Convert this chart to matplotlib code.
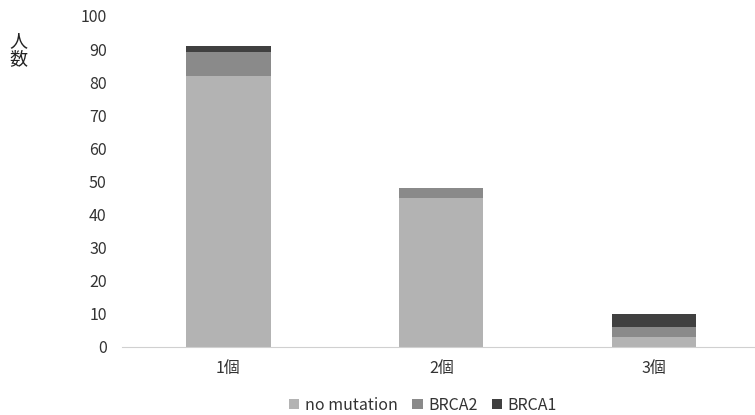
import numpy as np
import matplotlib
matplotlib.use('Agg')
import matplotlib.pyplot as plt

plt.rcParams['font.family'] = ['Noto Sans CJK JP', 'DejaVu Sans']

categories = ['1個', '2個', '3個']
no_mutation = [82, 45, 3]
brca2 = [7, 3, 3]
brca1 = [2, 0, 4]

c_none = '#b3b3b3'
c_b2 = '#8a8a8a'
c_b1 = '#404040'

fig = plt.figure(figsize=(7.55, 4.15), dpi=100)
ax = fig.add_axes([0.1616, 0.1639, 0.846, 0.7976])

x = np.arange(len(categories))
w = 0.395
ax.bar(x, no_mutation, w, color=c_none, label='no mutation')
ax.bar(x, brca2, w, bottom=no_mutation, color=c_b2, label='BRCA2')
ax.bar(x, brca1, w, bottom=np.array(no_mutation) + np.array(brca2), color=c_b1, label='BRCA1')

ax.set_xlim(-0.5, 2.5)
ax.set_ylim(0, 100)
ax.set_yticks(range(0, 101, 10))
ax.set_xticks(x)
ax.set_xticklabels(categories)

for s in ['top', 'right', 'left']:
    ax.spines[s].set_visible(False)
ax.spines['bottom'].set_color('#d0d0d0')
ax.tick_params(axis='both', length=0, labelsize=11.5, colors='#333333')
ax.tick_params(axis='y', pad=11)
ax.tick_params(axis='x', pad=9)

fig.text(0.024, 0.88, '人\n数', fontsize=13, color='#222222', ha='center', va='center',
         linespacing=1.0)

fig.legend(loc='center', bbox_to_anchor=(423 / 755, 1 - 405 / 415), ncol=3, frameon=False,
           fontsize=11.5, handlelength=0.65, handleheight=0.65, handletextpad=0.35,
           columnspacing=0.9, labelcolor='#333333')

fig.savefig('out.png', dpi=100)
